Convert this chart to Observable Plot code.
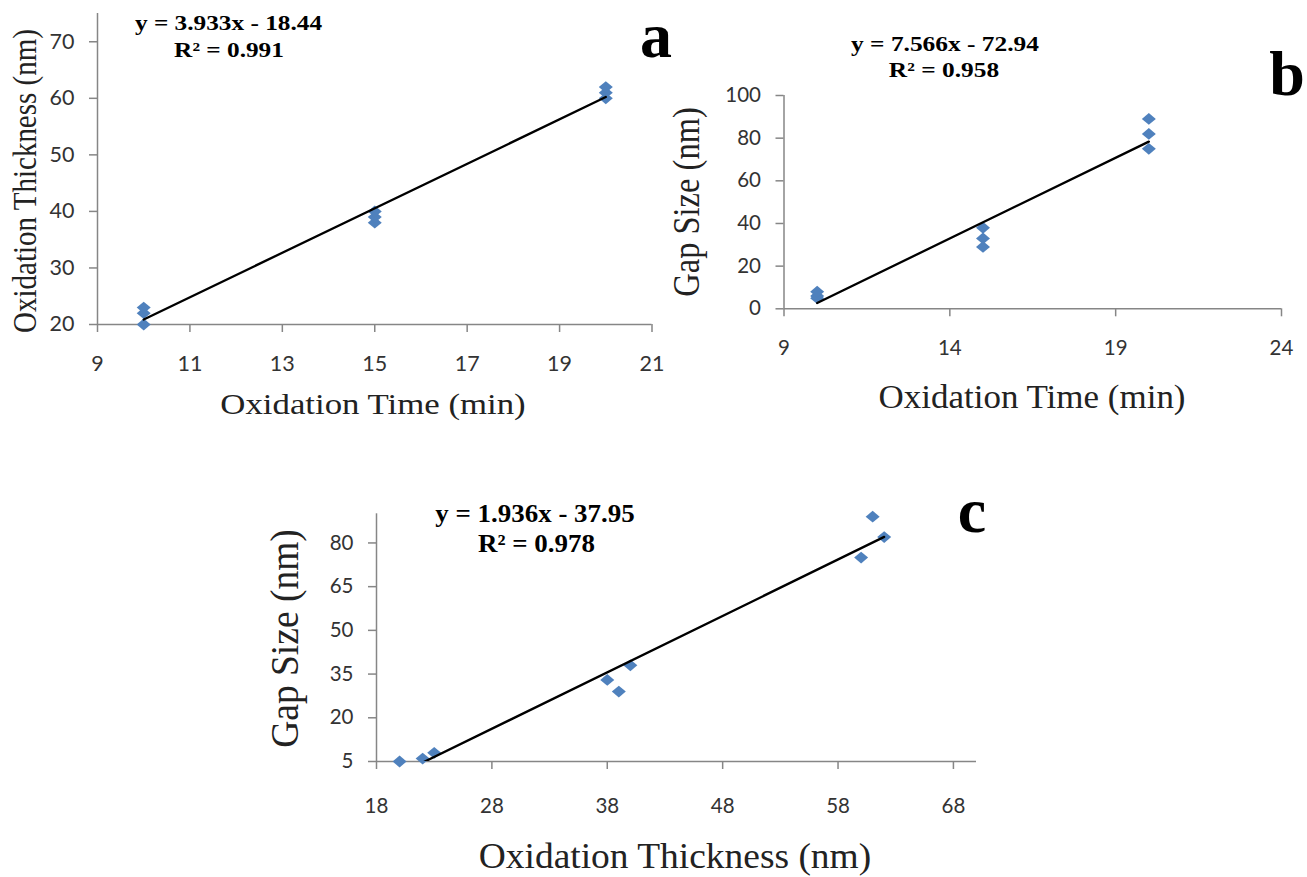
<!DOCTYPE html>
<html>
<head>
<meta charset="utf-8">
<script src="https://cdn.jsdelivr.net/npm/d3@7"></script>
<script src="https://cdn.jsdelivr.net/npm/@observablehq/plot@0.6"></script>
<style>
  html, body { margin: 0; padding: 0; background: #fff; }
  #page { position: relative; width: 1307px; height: 877px; overflow: hidden; background: #fff; }
  .panel { position: absolute; }
  #ann { position: absolute; left: 0; top: 0; pointer-events: none; }
</style>
</head>
<body>
<div id="page"></div>
<script>
// ---------- data ----------
const oxidationTime = [10, 10, 10, 15, 15, 15, 20, 20, 20];      // min
const oxidationThickness = [20, 22, 23, 38, 39, 40, 60, 61, 62]; // nm
const gapSize = [5, 6, 8, 33, 29, 38, 75, 89, 82];               // nm

const ticksA_x = [9, 11, 13, 15, 17, 19, 21];
const ticksA_y = [20, 30, 40, 50, 60, 70];
const ticksB_x = [9, 14, 19, 24];
const ticksB_y = [0, 20, 40, 60, 80, 100];
const ticksC_x = [18, 28, 38, 48, 58, 68];
const ticksC_y = [5, 20, 35, 50, 65, 80];

const domainA_x = [9, 21], domainA_y = [20, 75];
const domainB_x = [9, 24], domainB_y = [0, 100];
const domainC_x = [18, 70], domainC_y = [5, 90];

const panelLetters = ["a", "b", "c"];
const xTitles = ["Oxidation Time (min)", "Oxidation Time (min)", "Oxidation Thickness (nm)"];
const yTitles = ["Oxidation Thickness (nm)", "Gap Size (nm)", "Gap Size (nm)"];
const equations = [
  ["y = 3.933x - 18.44", "R² = 0.991"],
  ["y = 7.566x - 72.94", "R² = 0.958"],
  ["y = 1.936x - 37.95", "R² = 0.978"]
];

// ---------- style / layout ----------
const AXIS = "#868686", TEXT = "#333333", BLUE = "#4F81BD";

// Excel-like diamond, slightly wider than tall
const wideDiamond = {
  draw(context, size) {
    const r = Math.sqrt(size / Math.PI);
    const hw = 1.25 * r, hh = 1.05 * r;
    context.moveTo(0, -hh);
    context.lineTo(hw, 0);
    context.lineTo(0, hh);
    context.lineTo(-hw, 0);
    context.closePath();
  }
};

function makePanel(xs, ys, o) {
  const data = xs.map((d, i) => ({x: d, y: ys[i]}));
  return Plot.plot({
    width: o.width, height: o.height,
    marginLeft: o.ml, marginRight: o.mr, marginTop: o.mt, marginBottom: o.mb,
    x: {domain: o.xDomain},
    y: {domain: o.yDomain},
    style: {fontFamily: "Lato, 'Open Sans', sans-serif", fontSize: o.fs + "px", background: "transparent", overflow: "visible"},
    marks: [
      Plot.axisX({ticks: o.xTicks, tickSize: 8, tickPadding: o.xPad, stroke: AXIS, strokeWidth: 1.5, fill: TEXT, label: null}),
      Plot.axisY({ticks: o.yTicks, tickSize: 8, tickPadding: 15, stroke: AXIS, strokeWidth: 1.5, fill: TEXT, label: null}),
      Plot.ruleX([o.xDomain[0]], {stroke: AXIS, strokeWidth: 1.5}),
      Plot.ruleY([o.yDomain[0]], {stroke: AXIS, strokeWidth: 1.5}),
      Plot.dot(data, {x: "x", y: "y", symbol: wideDiamond, r: 5.6, fill: BLUE, stroke: "none"}),
      Plot.linearRegressionY(data, {x: "x", y: "y", ci: 0, stroke: "#000", strokeWidth: 2.3, clip: true})
    ]
  });
}

const page = document.getElementById("page");
function place(svg, left, top) {
  svg.classList.add("panel");
  svg.style.left = left + "px";
  svg.style.top = top + "px";
  svg.style.position = "absolute";
  page.appendChild(svg);
}

place(makePanel(oxidationTime, oxidationThickness, {
  width: 680, height: 400, ml: 97, mr: 28.5, mt: 13, mb: 76,
  xDomain: domainA_x, yDomain: domainA_y, xTicks: ticksA_x, yTicks: ticksA_y, fs: 21.5, xPad: 23.5
}), 0, 0);

place(makePanel(oxidationTime, gapSize, {
  width: 607, height: 400, ml: 83.5, mr: 26, mt: 95, mb: 91.7,
  xDomain: domainB_x, yDomain: domainB_y, xTicks: ticksB_x, yTicks: ticksB_y, fs: 20.5, xPad: 23.5
}), 700, 0);

place(makePanel(oxidationThickness, gapSize, {
  width: 700, height: 397, ml: 76, mr: 24, mt: 33.3, mb: 116,
  xDomain: domainC_x, yDomain: domainC_y, xTicks: ticksC_x, yTicks: ticksC_y, fs: 20.5, xPad: 29
}), 300, 480);

// ---------- annotations (titles, equations, panel letters) ----------
const ann = d3.select(page).append("svg").attr("id", "ann").attr("width", 1307).attr("height", 877);
const SERIF = "'Liberation Serif', 'Times New Roman', serif";

function hText(str, cx, base, fs, sx, bold) {
  ann.append("text")
    .attr("transform", `translate(${cx},${base}) scale(${sx},1)`)
    .attr("text-anchor", "middle")
    .attr("font-family", SERIF).attr("font-size", fs)
    .attr("font-weight", bold ? "bold" : "normal")
    .attr("fill", bold ? "#000" : "#222")
    .text(str);
}
function vText(str, baseX, cy, fs, sx) {
  ann.append("text")
    .attr("transform", `translate(${baseX},${cy}) scale(${sx},1) rotate(-90)`)
    .attr("text-anchor", "middle")
    .attr("font-family", SERIF).attr("font-size", fs)
    .attr("fill", "#222")
    .text(str);
}

const layout = [
  {xt: [373, 414, 30, 1.16], yt: [35.5, 181, 29, 1.16], eq: [[228.5, 30], [229, 57], 22, 1.15], letter: [656, 57]},
  {xt: [1032, 408, 33, 1.06], yt: [699, 202, 32.5, 1.15], eq: [[945, 50.5], [944, 77], 22, 1.155], letter: [1287, 95]},
  {xt: [675, 868, 35, 1.07], yt: [298, 638.5, 37.5, 1.05], eq: [[535, 521.5], [536.5, 551.5], 24.5, 1.10], letter: [972, 532]}
];

layout.forEach((L, i) => {
  hText(xTitles[i], L.xt[0], L.xt[1], L.xt[2], L.xt[3], false);
  vText(yTitles[i], L.yt[0], L.yt[1], L.yt[2], L.yt[3]);
  hText(equations[i][0], L.eq[0][0], L.eq[0][1], L.eq[2], L.eq[3], true);
  hText(equations[i][1], L.eq[1][0], L.eq[1][1], L.eq[2], L.eq[3], true);
  hText(panelLetters[i], L.letter[0], L.letter[1], 64, 1, true);
});
</script>
</body>
</html>
